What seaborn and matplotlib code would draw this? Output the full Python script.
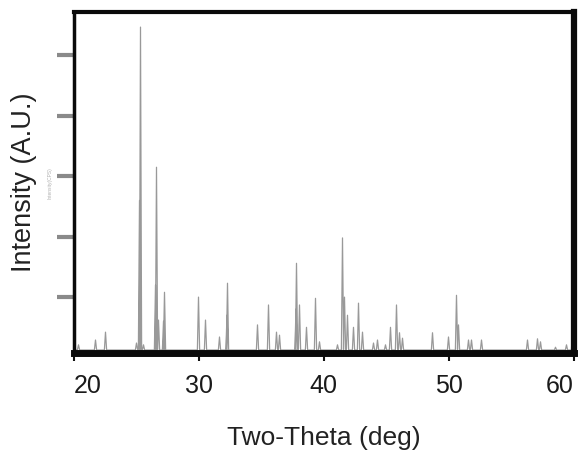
import numpy as np
import pandas as pd
import matplotlib
matplotlib.use("Agg")
import matplotlib.pyplot as plt
import seaborn as sns

# Peak positions (2-theta, deg) and peak heights (arbitrary units)
peak_pos = [20.40, 21.76, 22.56, 25.04, 25.28, 25.36, 25.60, 26.56, 26.64, 26.80, 27.20, 27.28,
            30.00, 30.56, 31.68, 32.28, 32.32, 34.72, 35.60, 36.24, 36.48, 37.80, 37.84, 38.08,
            38.64, 39.36, 39.68, 41.12, 41.52, 41.68, 41.92, 42.40, 42.80, 43.12, 44.00, 44.32,
            44.96, 45.36, 45.84, 46.08, 46.32, 48.72, 50.00, 50.64, 50.80, 51.60, 51.84, 52.64,
            56.32, 57.12, 57.36, 58.56, 59.44, 59.92]
peak_height = [0.21, 0.29, 0.42, 0.24, 2.60, 5.47, 0.21, 1.20, 3.15, 0.62, 0.60, 1.08,
               1.00, 0.62, 0.34, 0.70, 1.23, 0.54, 0.87, 0.42, 0.37, 0.80, 1.56, 0.87,
               0.50, 0.98, 0.26, 0.21, 1.98, 1.00, 0.70, 0.50, 0.90, 0.42, 0.24, 0.29,
               0.21, 0.50, 0.87, 0.41, 0.32, 0.41, 0.34, 1.03, 0.54, 0.29, 0.29, 0.29,
               0.29, 0.31, 0.26, 0.17, 0.21, 0.42]
baseline_level = 0.124

x_ticks = [20, 30, 40, 50, 60]
x_tick_labels = ["20", "30", "40", "50", "60"]
y_ticks = [1, 2, 3, 4, 5]

# Build the trace table: each peak drawn as a narrow spike from the baseline
half_w = 0.09
xs, ys = [19.8], [baseline_level]
for p, h in zip(peak_pos, peak_height):
    xs += [p - half_w, p, p + half_w]
    ys += [baseline_level, h, baseline_level]
xs.append(60.2)
ys.append(baseline_level)
df = pd.DataFrame({"two_theta": xs, "intensity": ys})

sns.set_theme(style="white")
plt.rcParams["font.family"] = ["Liberation Sans", "DejaVu Sans"]

fig = plt.figure(figsize=(5.81, 4.5), dpi=100)
ax = fig.add_axes([73.5 / 581, (450 - 353) / 450, 500 / 581, (353 - 12) / 450])

sns.lineplot(data=df, x="two_theta", y="intensity", sort=False, estimator=None,
             color="#999999", linewidth=0.9, ax=ax)

ax.set_xlim(20, 60)
ax.set_ylim(0.075, 5.72)

ax.set_xticks(x_ticks)
ax.set_xticklabels(x_tick_labels, fontsize=18, color="#1a1a1a")
lbls = ax.get_xticklabels()
lbls[0].set_ha("left")
lbls[-1].set_ha("right")
ax.set_yticks(y_ticks)
ax.set_yticklabels([])

ax.tick_params(axis="x", direction="out", length=6, width=1.5, color="#111111",
               pad=9, bottom=True)
ax.tick_params(axis="y", direction="out", length=12, width=3, color="#8a8a8a",
               left=True)

for side, lw in [("top", 3.0), ("left", 2.5), ("bottom", 5.0), ("right", 4.5)]:
    ax.spines[side].set_visible(True)
    ax.spines[side].set_color("#0a0a0a")
    ax.spines[side].set_linewidth(lw)

ax.set_xlabel("Two-Theta (deg)", fontsize=19, color="#222222", labelpad=20)
ax.set_ylabel("Intensity (A.U.)", fontsize=19.5, color="#222222", labelpad=11)

fig.text(50 / 581, 1 - 183 / 450, "Intensity(CPS)", rotation=90, fontsize=3.5,
         color="#b0b0b0", ha="center", va="center")

fig.savefig("out.png", dpi=100)
